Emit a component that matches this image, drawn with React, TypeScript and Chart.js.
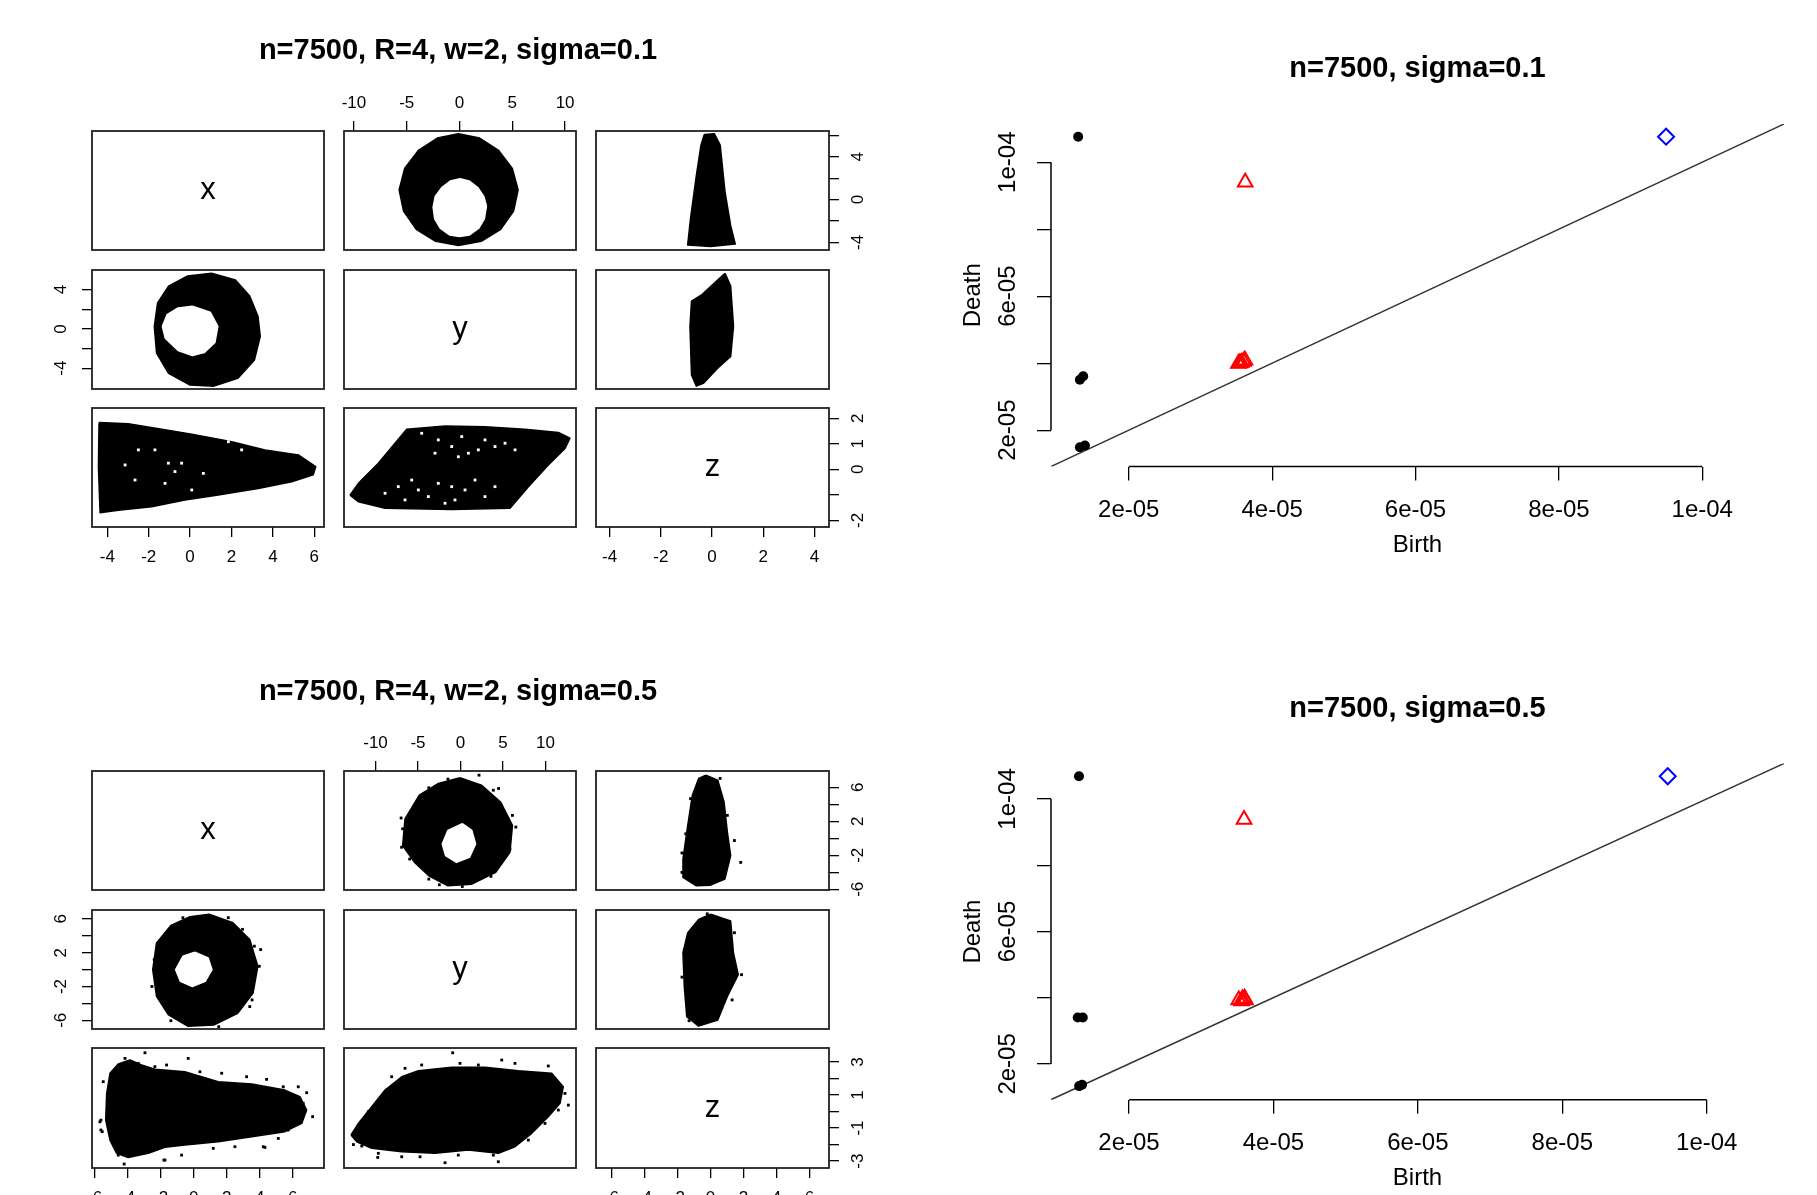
import React, { useEffect, useRef } from 'react';
import { Chart, registerables } from 'chart.js';

Chart.register(...registerables);

type P = [number, number];

const FONT = '"Liberation Sans", Arial, Helvetica, sans-serif';

// ---------------- text ----------------
const pairsTitles = ['n=7500, R=4, w=2, sigma=0.1', 'n=7500, R=4, w=2, sigma=0.5'];
const diagramTitles = ['n=7500, sigma=0.1', 'n=7500, sigma=0.5'];
const varNames = ['x', 'y', 'z'];
const birthTitle = 'Birth';
const deathTitle = 'Death';

// ---------------- sigma = 0.1 pairs : axes ----------------
const s1TopTicksY = [-10, -5, 0, 5, 10];
const s1TopLabelsY = ['-10', '-5', '0', '5', '10'];
const s1BottomTicksX = [-4, -2, 0, 2, 4, 6];
const s1BottomLabelsX = ['-4', '-2', '0', '2', '4', '6'];
const s1BottomTicksZ = [-4, -2, 0, 2, 4];
const s1BottomLabelsZ = ['-4', '-2', '0', '2', '4'];
const s1RightTicksX = [-4, -2, 0, 2, 4, 6];
const s1RightLabelsX = ['-4', '', '0', '', '4', ''];
const s1LeftTicksY = [-4, -2, 0, 2, 4];
const s1LeftLabelsY = ['-4', '', '0', '', '4'];
const s1RightTicksZ = [-2, -1, 0, 1, 2];
const s1RightLabelsZ = ['-2', '', '0', '1', '2'];
const s1ColRangeX = [-4.74, 6.47];
const s1ColRangeY = [-10.94, 11.03];
const s1ColRangeZ = [-4.53, 4.57];
const s1RowRangeX = [-4.71, 6.41];
const s1RowRangeY = [-6.12, 6.0];
const s1RowRangeZ = [-2.26, 2.4];

// ---------------- sigma = 0.5 pairs : axes ----------------
const s5TopTicksY = [-10, -5, 0, 5, 10];
const s5TopLabelsY = ['-10', '-5', '0', '5', '10'];
const s5BottomTicksX = [-6, -4, -2, 0, 2, 4, 6];
const s5BottomLabelsX = ['-6', '-4', '-2', '0', '2', '4', '6'];
const s5BottomTicksZ = [-6, -4, -2, 0, 2, 4, 6];
const s5BottomLabelsZ = ['-6', '-4', '-2', '0', '2', '4', '6'];
const s5RightTicksX = [-6, -4, -2, 0, 2, 4, 6];
const s5RightLabelsX = ['-6', '', '-2', '', '2', '', '6'];
const s5LeftTicksY = [-6, -4, -2, 0, 2, 4, 6];
const s5LeftLabelsY = ['-6', '', '-2', '', '2', '', '6'];
const s5RightTicksZ = [-3, -2, -1, 0, 1, 2, 3];
const s5RightLabelsZ = ['-3', '', '-1', '', '1', '', '3'];
const s5ColRangeX = [-6.16, 7.9];
const s5ColRangeY = [-13.71, 13.59];
const s5ColRangeZ = [-6.94, 7.18];
const s5RowRangeX = [-6.09, 7.91];
const s5RowRangeY = [-7.03, 7.05];
const s5RowRangeZ = [-3.42, 3.85];

// ---------------- sigma = 0.1 point clouds (outlines) ----------------
const s1YX_outer: P[] = [[5.55, 0.9], [5.0, 2.9], [3.7, 4.6], [1.9, 5.75], [-0.1, 6.15], [-2.1, 5.75], [-3.9, 4.6], [-5.2, 2.9], [-5.72, 0.9], [-5.3, -1.08], [-4.1, -2.78], [-2.26, -3.9], [-0.1, -4.28], [2.06, -3.9], [3.9, -2.78], [5.12, -1.08]];
const s1YX_hole: P[] = [[2.55, -0.6], [2.3, 0.3], [1.7, 1.15], [0.9, 1.75], [0.05, 1.95], [-0.85, 1.75], [-1.65, 1.15], [-2.3, 0.3], [-2.5, -0.7], [-2.35, -1.8], [-1.8, -2.7], [-0.95, -3.3], [0, -3.45], [0.95, -3.3], [1.8, -2.7], [2.35, -1.8]];
const s1ZX: P[] = [[-0.3, 6.09], [0.09, 6.16], [0.32, 5.09], [0.51, 0.7], [0.73, -2.44], [0.91, -4.16], [-0.05, -4.38], [-0.95, -4.25], [-0.84, -1.81], [-0.61, 2.27], [-0.43, 5.09]];
const s1XY_outer: P[] = [[1.04, 5.66], [2.19, 4.98], [2.88, 3.34], [3.28, 1.28], [3.39, -0.76], [3.11, -3.16], [2.3, -5.04], [1.15, -5.83], [0, -5.72], [-1.04, -4.52], [-1.62, -2.47], [-1.73, 0.26], [-1.57, 2.65], [-1.04, 4.36], [-0.12, 5.39]];
const s1XY_hole: P[] = [[0.11, 2.31], [0.97, 1.7], [1.34, 0.26], [1.2, -1.37], [0.69, -2.4], [0.11, -2.71], [-0.58, -2.2], [-1.2, -0.94], [-1.34, 0.26], [-1.11, 1.46], [-0.58, 2.14]];
const s1ZY: P[] = [[0.51, 5.66], [0.73, 4.36], [0.84, 0.26], [0.73, -2.81], [0.22, -4.01], [-0.34, -5.55], [-0.61, -5.83], [-0.8, -4.69], [-0.86, 0.26], [-0.8, 2.82], [-0.39, 3.5], [0.22, 4.98]];
const s1XZ: P[] = [[-4.4, 1.83], [-2.99, 1.78], [-1.37, 1.57], [0.08, 1.37], [2.01, 1.08], [3.62, 0.76], [5.23, 0.56], [6.07, 0.1], [5.95, -0.22], [4.91, -0.49], [3.29, -0.75], [1.36, -1.01], [-0.25, -1.2], [-1.86, -1.47], [-3.47, -1.6], [-4.35, -1.7], [-4.43, 0.1]];
const s1XZ_gaps: P[] = [[-2.5, 0.76], [-1.7, 0.76], [-3.14, 0.17], [-1.05, 0.24], [-0.73, -0.09], [-0.41, 0.24], [-2.66, -0.42], [-1.21, -0.55], [0.64, -0.16], [2.49, 0.76], [1.85, 1.08], [0.08, -0.81]];
const s1YZ: P[] = [[-10.37, -1.01], [-9.58, -0.55], [-7.69, 0.24], [-6.11, 1.02], [-5.0, 1.57], [-1.37, 1.7], [2.41, 1.67], [6.2, 1.57], [9.36, 1.44], [10.46, 1.22], [9.99, 0.82], [8.41, 0.17], [6.52, -0.68], [4.78, -1.53], [-0.74, -1.57], [-7.05, -1.53], [-9.58, -1.27]];
const s1YZ_gaps: P[] = [[-3.58, 1.41], [-2.01, 1.15], [-0.74, 0.89], [0.21, 1.28], [0.84, 0.63], [1.78, 0.76], [2.41, 1.15], [3.36, 0.89], [4.31, 1.02], [5.26, 0.76], [-0.11, 0.49], [-2.32, 0.63], [-7.05, -0.94], [-5.8, -0.68], [-5.16, -1.2], [-3.9, -0.81], [-2.95, -1.07], [-2.01, -0.55], [-0.74, -0.68], [-0.43, -1.2], [0.52, -0.81], [1.47, -0.42], [2.41, -1.07], [3.36, -0.68], [-4.53, -0.42], [-1.37, -1.33]];

// ---------------- sigma = 0.5 point clouds ----------------
const s5YX_outer: P[] = [[-0.07, 7.11], [2.46, 6.25], [4.71, 4.27], [6.11, 1.51], [5.82, -1.65], [4.14, -4.02], [1.33, -5.4], [-1.48, -5.6], [-3.73, -4.41], [-5.41, -2.84], [-6.81, -0.86], [-6.53, 2.29], [-4.85, 5.06], [-2.6, 6.44]];
const s5YX_hole: P[] = [[0.21, 1.71], [1.33, 0.92], [1.78, -0.67], [1.05, -2.25], [-0.47, -2.84], [-1.76, -2.05], [-2.15, -0.67], [-1.48, 0.92]];
const s5YX_stray: P[] = [[2.18, 7.42], [4.48, 5.85], [-6.99, 2.38], [-6.93, -1.06], [-2.49, -5.48], [6.51, 1.31], [-5.41, 3.87], [-6.81, 1.11], [-5.98, -2.45], [-3.73, -4.81], [0.21, -5.68], [3.58, -4.49], [5.82, -1.26], [6.11, 2.69], [3.86, 5.65], [-1.48, 6.95], [-3.73, 5.93]];
const s5ZX: P[] = [[-0.28, 7.42], [0.44, 6.84], [0.82, 4.27], [1.02, 0.72], [1.22, -2.05], [0.87, -4.81], [0.01, -5.52], [-0.86, -5.6], [-1.67, -4.61], [-1.67, -2.45], [-1.38, 1.51], [-1.1, 5.06], [-0.72, 7.04]];
const s5ZX_stray: P[] = [[1.83, -2.84], [-1.21, 4.66], [-1.73, -1.73], [0.58, 7.04], [1.45, -0.27], [-1.73, -4.02], [-1.5, 0.52], [1.02, 2.69]];
const s5XY_outer: P[] = [[0.94, 6.54], [2.38, 5.55], [3.4, 3.56], [3.89, 0.39], [3.6, -2.79], [2.67, -5.17], [1.22, -6.57], [-0.36, -6.69], [-1.52, -5.37], [-2.25, -3.18], [-2.48, -0.01], [-2.25, 3.16], [-1.38, 5.23], [-0.22, 6.26]];
const s5XY_hole: P[] = [[0.07, 2.06], [0.88, 1.37], [1.11, -0.01], [0.7, -1.4], [-0.08, -2.0], [-0.8, -1.4], [-1.09, -0.01], [-0.65, 1.57]];
const s5XY_stray: P[] = [[4.06, 2.37], [3.4, 2.77], [-2.53, -2.0], [2.96, 4.76], [3.54, -3.59], [3.68, 2.77], [3.98, 0.39], [3.4, -4.38], [1.52, -6.76], [-1.38, -6.05], [-2.39, 1.18], [-0.65, 6.14], [2.1, 6.14]];
const s5ZY: P[] = [[0.01, 6.54], [1.22, 5.75], [1.39, 1.98], [1.68, -0.6], [1.02, -3.18], [0.44, -5.96], [-0.72, -6.69], [-1.44, -5.57], [-1.59, -2.0], [-1.67, 1.98], [-1.38, 4.36], [-0.72, 5.94]];
const s5ZY_stray: P[] = [[1.88, -0.6], [-1.73, -0.89], [-0.2, 6.6], [1.45, 4.36], [1.31, -3.59], [-1.3, -6.05], [-1.59, 2.37]];
const s5XZ: P[] = [[-5.27, 1.1], [-5.07, 2.32], [-4.57, 2.88], [-3.86, 3.12], [-3.15, 2.82], [-2.35, 2.56], [-0.53, 2.41], [1.49, 1.81], [3.52, 1.67], [5.53, 1.3], [6.44, 0.9], [6.85, 0.09], [6.55, -0.72], [5.53, -1.22], [3.52, -1.53], [1.49, -1.83], [-0.53, -2.03], [-1.74, -2.17], [-2.75, -2.53], [-3.96, -2.78], [-4.67, -2.53], [-5.07, -1.73], [-5.33, -0.52]];
const s5XZ_stray: P[] = [[-2.95, 3.56], [-5.68, -0.62], [-5.62, -1.12], [7.21, -0.31], [6.85, 1.14], [-4.21, -3.18], [-1.8, -2.94], [-0.33, 3.22], [4.32, -2.17], [5.13, -1.63], [-4.16, 3.22], [-5.48, 1.81], [-5.62, -0.52], [-5.54, -1.22], [-4.57, -2.64], [-3.76, -2.64], [-2.55, -2.33], [-1.74, -2.94], [-0.73, -2.64], [1.19, -2.23], [2.5, -2.13], [4.22, -2.13], [5.73, -1.12], [6.64, 0.5], [6.34, 1.5], [5.43, 1.5], [4.42, 1.95], [3.21, 2.11], [1.7, 2.32], [0.38, 2.41], [-1.64, 2.82], [-2.35, 2.72], [-3.36, 2.92]];
const s5YZ: P[] = [[-12.88, -1.42], [-12.02, -0.72], [-10.45, 0.29], [-8.88, 1.3], [-6.92, 2.11], [-4.96, 2.47], [-1.04, 2.68], [2.88, 2.68], [6.8, 2.47], [10.73, 2.32], [12.09, 1.5], [11.71, 0.5], [10.33, -0.31], [8.38, -1.32], [6.41, -2.13], [4.45, -2.53], [0.92, -2.33], [-3.0, -2.53], [-6.92, -2.44], [-10.45, -2.23], [-12.21, -1.83]];
const s5YZ_stray: P[] = [[-0.92, 3.56], [-1.82, -3.1], [4.45, -3.04], [-9.74, -2.78], [12.69, 0.39], [10.33, 2.76], [4.85, 3.12], [-6.53, 2.62], [-12.6, -2.0], [-11.62, -2.09], [-11.43, -0.92], [-10.85, -0.01], [-8.69, 1.3], [-8.1, 2.11], [-4.57, 2.82], [-0.06, 2.92], [2.1, 2.82], [6.41, 2.92], [12.29, 1.1], [11.51, 0.09], [9.94, -0.72], [7.98, -1.73], [3.86, -2.64], [-0.26, -2.64], [-4.76, -2.74], [-6.92, -2.74], [-9.67, -2.53]];

// ---------------- persistence diagrams ----------------
const birthTicks = [2e-5, 4e-5, 6e-5, 8e-5, 1e-4];
const birthLabels = ['2e-05', '4e-05', '6e-05', '8e-05', '1e-04'];
const deathTicks = [2e-5, 4e-5, 6e-5, 8e-5, 1e-4];
const deathLabels = ['2e-05', '', '6e-05', '', '1e-04'];
const d1Range = [9.15e-6, 1.114e-4];
const d2Range = [9.2e-6, 1.107e-4];
const diagonal: P[] = [[0, 0], [2e-4, 2e-4]];
const d1Dim0: P[] = [[1.294e-5, 1.0761e-4], [1.318e-5, 3.504e-5], [1.364e-5, 3.61e-5], [1.318e-5, 1.49e-5], [1.388e-5, 1.544e-5]];
const d1Dim1: P[] = [[3.624e-5, 9.4e-5], [3.53e-5, 3.99e-5], [3.57e-5, 4.02e-5], [3.62e-5, 4.09e-5], [3.6e-5, 4.05e-5], [3.55e-5, 4.005e-5]];
const d1Dim2: P[] = [[9.495e-5, 1.0761e-4]];
const d2Dim0: P[] = [[1.3075e-5, 1.0686e-4], [1.29e-5, 3.4e-5], [1.36e-5, 3.4e-5], [1.31e-5, 1.33e-5], [1.35e-5, 1.37e-5]];
const d2Dim1: P[] = [[3.593e-5, 9.38e-5], [3.52e-5, 3.93e-5], [3.57e-5, 3.96e-5], [3.61e-5, 3.93e-5], [3.56e-5, 3.9e-5], [3.6e-5, 3.98e-5]];
const d2Dim2: P[] = [[9.46e-5, 1.0686e-4]];

// ---------------- helpers ----------------
const toXY = (pts: P[]) => pts.map(([x, y]) => ({ x, y }));

function shapeSet(pts: P[], color: string, order: number) {
  return {
    data: toXY([...pts, pts[0]]),
    showLine: true,
    fill: 'shape',
    backgroundColor: color,
    borderColor: color,
    borderWidth: 1.5,
    borderJoinStyle: 'round',
    pointRadius: 0,
    tension: 0,
    order,
  };
}

function dotSet(pts: P[], color: string, radius: number, order: number) {
  return {
    data: toXY(pts),
    showLine: false,
    pointStyle: 'rect',
    pointRadius: radius,
    pointBackgroundColor: color,
    pointBorderWidth: 0,
    order,
  };
}

function markerSet(pts: P[], style: string, radius: number, fillColor: string, edge: string, edgeW: number, order: number) {
  return {
    data: toXY(pts),
    showLine: false,
    pointStyle: style,
    pointRadius: radius,
    pointBackgroundColor: fillColor,
    pointBorderColor: edge,
    pointBorderWidth: edgeW,
    order,
  };
}

const boxPlugin = {
  id: 'panelBox',
  afterDatasetsDraw(chart: any, _a: any, opts: any) {
    if (!opts || !opts.show) return;
    const { ctx, chartArea: a } = chart;
    ctx.save();
    ctx.strokeStyle = '#222';
    ctx.lineWidth = 1.8;
    ctx.strokeRect(a.left, a.top, a.right - a.left, a.bottom - a.top);
    ctx.restore();
  },
};

const diagLabelPlugin = {
  id: 'diagLabel',
  afterDraw(chart: any, _a: any, opts: any) {
    if (!opts || !opts.text) return;
    const { ctx, chartArea: a } = chart;
    ctx.save();
    ctx.font = `31px ${FONT}`;
    ctx.fillStyle = '#000';
    ctx.textAlign = 'center';
    ctx.textBaseline = 'middle';
    ctx.fillText(opts.text, (a.left + a.right) / 2, (a.top + a.bottom) / 2);
    ctx.restore();
  },
};

// figure title for the scatter-matrix (centred over the whole matrix, not one panel)
const figTitlePlugin = {
  id: 'figTitle',
  afterDraw(chart: any, _a: any, opts: any) {
    if (!opts || !opts.text) return;
    const { ctx } = chart;
    ctx.save();
    ctx.font = `bold 29px ${FONT}`;
    ctx.fillStyle = '#000';
    ctx.textAlign = 'center';
    ctx.textBaseline = 'middle';
    ctx.fillText(opts.text, opts.x, opts.y);
    ctx.restore();
  },
};

const axisLinePlugin = {
  id: 'rAxisLines',
  afterDraw(chart: any, _a: any, opts: any) {
    if (!opts || !opts.show) return;
    const { ctx, chartArea: a, scales } = chart;
    ctx.save();
    ctx.strokeStyle = '#000';
    ctx.lineWidth = 1.5;
    ctx.beginPath();
    ctx.moveTo(scales.x.getPixelForValue(opts.xFrom), a.bottom);
    ctx.lineTo(scales.x.getPixelForValue(opts.xTo), a.bottom);
    ctx.moveTo(a.left, scales.y.getPixelForValue(opts.yFrom));
    ctx.lineTo(a.left, scales.y.getPixelForValue(opts.yTo));
    ctx.stroke();
    ctx.restore();
  },
};

function scaleOpts(range: number[], axis: any, isX: boolean) {
  const base: any = { type: 'linear', min: range[0], max: range[1], bounds: 'data' };
  if (!axis) {
    base.display = false;
    base.position = isX ? 'bottom' : 'left';
    return base;
  }
  base.display = true;
  base.position = axis.pos;
  base.afterBuildTicks = (s: any) => {
    s.ticks = axis.ticks.map((v: number) => ({ value: v }));
  };
  base.afterFit = (s: any) => {
    if (isX) s.height = axis.size;
    else s.width = axis.size;
  };
  base.border = { display: false };
  base.grid = { display: true, drawOnChartArea: false, drawTicks: true, tickLength: axis.tickLen, tickColor: '#000', color: '#000', lineWidth: 1.3 };
  base.ticks = {
    autoSkip: false,
    color: '#000',
    font: { size: axis.font, family: FONT },
    padding: axis.pad,
    callback: (_v: any, i: number) => axis.labels[i],
  };
  if (isX) Object.assign(base.ticks, { minRotation: 0, maxRotation: 0 });
  else Object.assign(base.ticks, { minRotation: 90, maxRotation: 90, crossAlign: 'center' });
  if (axis.title) {
    base.title = { display: true, text: axis.title, color: '#000', font: { size: axis.font, family: FONT }, padding: { top: axis.titlePad, bottom: axis.titlePad } };
  }
  return base;
}

function buildConfig(spec: any) {
  return {
    type: 'line',
    data: { datasets: spec.datasets },
    options: {
      animation: false,
      responsive: false,
      maintainAspectRatio: false,
      events: [],
      layout: { padding: spec.padding },
      scales: { x: scaleOpts(spec.xRange, spec.xAxis, true), y: scaleOpts(spec.yRange, spec.yAxis, false) },
      plugins: {
        legend: { display: false },
        tooltip: { enabled: false },
        title: spec.title
          ? { display: true, text: spec.title, color: '#000', fullSize: false, font: { size: 29, weight: 'bold', family: FONT }, padding: { top: 0, bottom: spec.titlePadBottom } }
          : { display: false },
        panelBox: { show: !!spec.box },
        diagLabel: { text: spec.diag || '' },
        figTitle: spec.figTitle || { text: '' },
        rAxisLines: spec.axisLines || { show: false },
      },
    },
    plugins: [boxPlugin, diagLabelPlugin, figTitlePlugin, axisLinePlugin],
  };
}

// ---------------- layout ----------------
const AX = 45;
const M = 60;
const MT = 160; // wider side margin for the panel that also carries the matrix title
const COLS = [[92, 324], [344, 576], [596, 829]];
const ROWS = [
  [[131, 250], [270, 389], [408, 527]],
  [[771, 890], [910, 1029], [1048, 1168]],
];
const FIG_TOP = [0, 640];
const PAIRS_TITLE_Y = [51, 691.5];
const PAIRS_TITLE_X = 458;
const DIAG_TITLE_Y = [69, 709];
const DIAG_AREA = [
  { l: 1051, r: 1784, t: 124, b: 466.5 },
  { l: 1051, r: 1784, t: 763.5, b: 1099.7 },
];
const TITLE_FS = 29;
const TICK_FS = 17;

function pAxis(pos: string, ticks: number[], labels: string[]) {
  const pads: any = { top: 7.3, bottom: 10.3, left: 12.9, right: 11.4 };
  return { pos, ticks, labels, size: AX, tickLen: 10, pad: pads[pos], font: TICK_FS };
}

function panel(f: number, r: number, c: number, xRange: number[], yRange: number[], datasets: any[], opt: any) {
  const [c0, c1] = COLS[c];
  const [r0, r1] = ROWS[f][r];
  const side = opt.title ? MT : M;
  const y = opt.title ? FIG_TOP[f] : r0 - M;
  const canvas = { x: c0 - side, y, w: c1 - c0 + 2 * side, h: r1 - y + M };
  const topAx = opt.xAxis && opt.xAxis.pos === 'top' ? AX : 0;
  const padding = {
    left: side - (opt.yAxis && opt.yAxis.pos === 'left' ? AX : 0),
    right: side - (opt.yAxis && opt.yAxis.pos === 'right' ? AX : 0),
    top: r0 - y - topAx,
    bottom: M - (opt.xAxis && opt.xAxis.pos === 'bottom' ? AX : 0),
  };
  const figTitle = opt.title ? { text: opt.title, x: PAIRS_TITLE_X - canvas.x, y: PAIRS_TITLE_Y[f] - canvas.y } : { text: '' };
  return { canvas, padding, xRange, yRange, datasets, xAxis: opt.xAxis, yAxis: opt.yAxis, diag: opt.diag, figTitle, box: true };
}

function diagram(f: number, range: number[], dim0: P[], dim1: P[], dim2: P[]) {
  const area = DIAG_AREA[f];
  const AXP = 100;
  const canvas = { x: 930, y: FIG_TOP[f], w: 887, h: 600 };
  const titlePadBottom = area.t - 0.6 * TITLE_FS - DIAG_TITLE_Y[f];
  const padding = {
    left: area.l - canvas.x - AXP,
    right: canvas.x + canvas.w - area.r,
    top: area.t - canvas.y - (1.2 * TITLE_FS + titlePadBottom),
    bottom: canvas.y + canvas.h - area.b - AXP,
  };
  const xAxis = { pos: 'bottom', ticks: birthTicks, labels: birthLabels, size: AXP, tickLen: 14, pad: 15.1, font: 24, title: birthTitle, titlePad: 6.5 };
  const yAxis = { pos: 'left', ticks: deathTicks, labels: deathLabels, size: AXP, tickLen: 14, pad: -1.7, font: 24, title: deathTitle, titlePad: 7.6 };
  const datasets = [
    { data: toXY(diagonal), showLine: true, borderColor: '#333', borderWidth: 1.5, pointRadius: 0, fill: false, order: 4 },
    markerSet(dim0, 'circle', 5, '#000', '#000', 0, 3),
    markerSet(dim1, 'triangle', 8.5, 'rgba(0,0,0,0)', '#ff0000', 2, 2),
    markerSet(dim2, 'rectRot', 8, 'rgba(0,0,0,0)', '#0000ff', 2, 1),
  ];
  return {
    canvas, padding, xRange: range, yRange: range, datasets, xAxis, yAxis,
    title: diagramTitles[f], titlePadBottom, box: false,
    axisLines: { show: true, xFrom: birthTicks[0], xTo: birthTicks[birthTicks.length - 1], yFrom: deathTicks[0], yTo: deathTicks[deathTicks.length - 1] },
  };
}

function buildSpecs() {
  const K = '#000';
  const W = '#fff';
  const specs: any[] = [];
  // ---- sigma = 0.1 ----
  specs.push(panel(0, 0, 0, s1ColRangeX, s1RowRangeX, [], { diag: varNames[0] }));
  specs.push(panel(0, 0, 2, s1ColRangeZ, s1RowRangeX, [shapeSet(s1ZX, K, 3)], { yAxis: pAxis('right', s1RightTicksX, s1RightLabelsX) }));
  specs.push(panel(0, 1, 0, s1ColRangeX, s1RowRangeY, [shapeSet(s1XY_outer, K, 3), shapeSet(s1XY_hole, W, 1)], { yAxis: pAxis('left', s1LeftTicksY, s1LeftLabelsY) }));
  specs.push(panel(0, 1, 1, s1ColRangeY, s1RowRangeY, [], { diag: varNames[1] }));
  specs.push(panel(0, 1, 2, s1ColRangeZ, s1RowRangeY, [shapeSet(s1ZY, K, 3)], {}));
  specs.push(panel(0, 2, 0, s1ColRangeX, s1RowRangeZ, [shapeSet(s1XZ, K, 3), dotSet(s1XZ_gaps, W, 2, 1)], { xAxis: pAxis('bottom', s1BottomTicksX, s1BottomLabelsX) }));
  specs.push(panel(0, 2, 1, s1ColRangeY, s1RowRangeZ, [shapeSet(s1YZ, K, 3), dotSet(s1YZ_gaps, W, 2, 1)], {}));
  specs.push(panel(0, 2, 2, s1ColRangeZ, s1RowRangeZ, [], { diag: varNames[2], xAxis: pAxis('bottom', s1BottomTicksZ, s1BottomLabelsZ), yAxis: pAxis('right', s1RightTicksZ, s1RightLabelsZ) }));
  specs.push(panel(0, 0, 1, s1ColRangeY, s1RowRangeX, [shapeSet(s1YX_outer, K, 3), shapeSet(s1YX_hole, W, 1)], { xAxis: pAxis('top', s1TopTicksY, s1TopLabelsY), title: pairsTitles[0] }));
  // ---- sigma = 0.5 ----
  specs.push(panel(1, 0, 0, s5ColRangeX, s5RowRangeX, [], { diag: varNames[0] }));
  specs.push(panel(1, 0, 2, s5ColRangeZ, s5RowRangeX, [shapeSet(s5ZX, K, 3), dotSet(s5ZX_stray, K, 2, 2)], { yAxis: pAxis('right', s5RightTicksX, s5RightLabelsX) }));
  specs.push(panel(1, 1, 0, s5ColRangeX, s5RowRangeY, [shapeSet(s5XY_outer, K, 3), dotSet(s5XY_stray, K, 2, 2), shapeSet(s5XY_hole, W, 1)], { yAxis: pAxis('left', s5LeftTicksY, s5LeftLabelsY) }));
  specs.push(panel(1, 1, 1, s5ColRangeY, s5RowRangeY, [], { diag: varNames[1] }));
  specs.push(panel(1, 1, 2, s5ColRangeZ, s5RowRangeY, [shapeSet(s5ZY, K, 3), dotSet(s5ZY_stray, K, 2, 2)], {}));
  specs.push(panel(1, 2, 0, s5ColRangeX, s5RowRangeZ, [shapeSet(s5XZ, K, 3), dotSet(s5XZ_stray, K, 2, 2)], { xAxis: pAxis('bottom', s5BottomTicksX, s5BottomLabelsX) }));
  specs.push(panel(1, 2, 1, s5ColRangeY, s5RowRangeZ, [shapeSet(s5YZ, K, 3), dotSet(s5YZ_stray, K, 2, 2)], {}));
  specs.push(panel(1, 2, 2, s5ColRangeZ, s5RowRangeZ, [], { diag: varNames[2], xAxis: pAxis('bottom', s5BottomTicksZ, s5BottomLabelsZ), yAxis: pAxis('right', s5RightTicksZ, s5RightLabelsZ) }));
  specs.push(panel(1, 0, 1, s5ColRangeY, s5RowRangeX, [shapeSet(s5YX_outer, K, 3), dotSet(s5YX_stray, K, 2, 2), shapeSet(s5YX_hole, W, 1)], { xAxis: pAxis('top', s5TopTicksY, s5TopLabelsY), title: pairsTitles[1] }));
  // ---- persistence diagrams ----
  specs.push(diagram(0, d1Range, d1Dim0, d1Dim1, d1Dim2));
  specs.push(diagram(1, d2Range, d2Dim0, d2Dim1, d2Dim2));
  return specs;
}

function ChartCanvas({ spec }: { spec: any }) {
  const ref = useRef<HTMLCanvasElement>(null);
  useEffect(() => {
    const chart = new Chart(ref.current as HTMLCanvasElement, buildConfig(spec) as any);
    return () => chart.destroy();
  }, [spec]);
  const c = spec.canvas;
  return (
    <canvas
      ref={ref}
      width={c.w}
      height={c.h}
      style={{ position: 'absolute', left: c.x, top: c.y, width: c.w, height: c.h }}
    />
  );
}

const SPECS = buildSpecs();

export default function App() {
  return (
    <div style={{ position: 'fixed', left: 0, top: 0, width: 1817, height: 1195, overflow: 'hidden', background: '#fff' }}>
      {SPECS.map((s, i) => (
        <ChartCanvas key={i} spec={s} />
      ))}
    </div>
  );
}
